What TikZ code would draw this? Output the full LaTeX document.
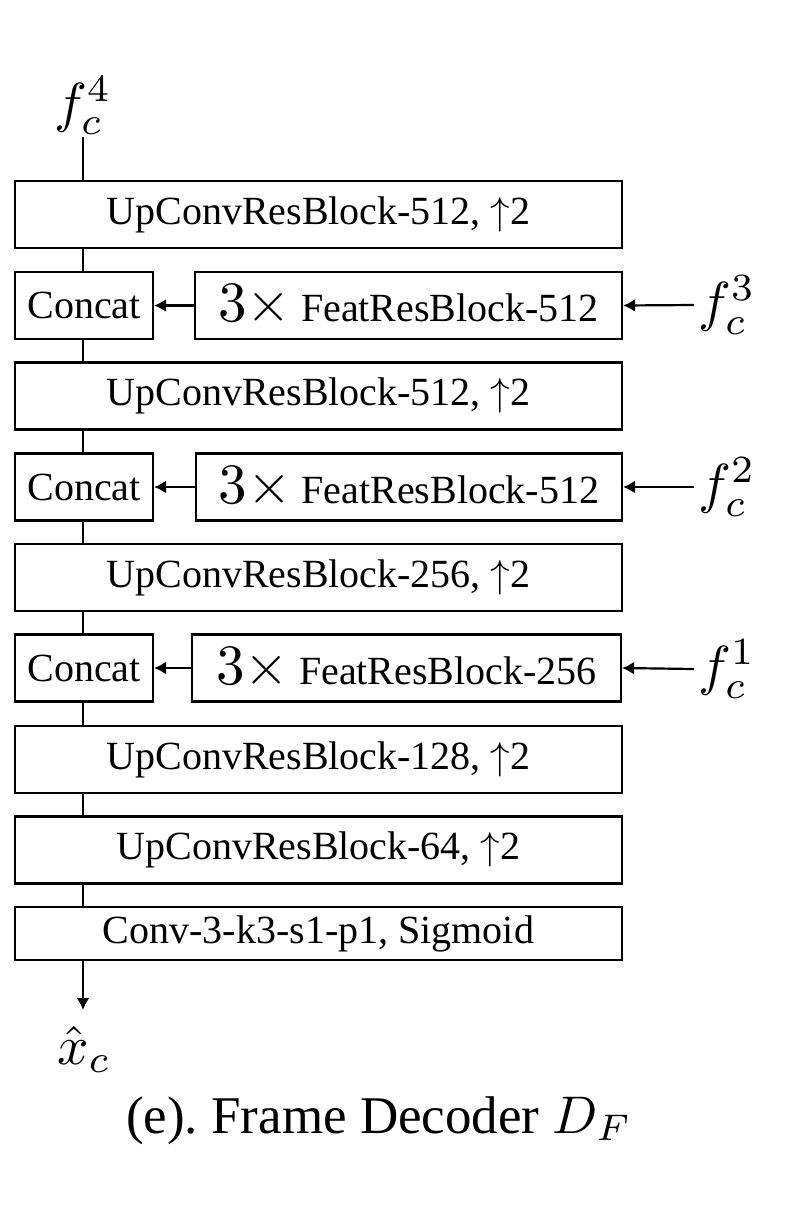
\documentclass[tikz,border=0pt]{standalone}
\usepackage[no-math]{fontspec}
\setmainfont{Liberation Serif}
\usetikzlibrary{arrows.meta}
\newcommand{\mth}[2]{\scalebox{#1}{\fontsize{10}{12}\selectfont$#2$}}
\begin{document}
\begin{tikzpicture}[x=1pt,y=-1pt,
  blk/.style={draw,line width=2.2pt,rectangle,inner sep=0pt,
    minimum width=607pt,minimum height=67pt,font=\fontsize{40}{48}\selectfont},
  catbox/.style={blk,minimum width=138pt},
  featbox/.style={blk,minimum width=427pt},
  lbl/.style={inner sep=0pt},
  conn/.style={line width=2.2pt},
  arr/.style={conn,-{Latex[length=12pt,width=13pt]}}
]
\useasboundingbox (0,0) rectangle (800,1211);
\newcommand{\tx}{\mth{5.7}{3\times}}
\newcommand{\upa}{\mth{3.9}{\uparrow}}
% main column
\node[blk] (up1) at (318.5,214.5) {UpConvResBlock-512, \upa2};
\node[catbox] (cat1) at (84,305.5) {Concat};
\node[featbox] (feat1) at (408.5,305.5) {\tx\ FeatResBlock-512};
\node[blk] (up2) at (318.5,396) {UpConvResBlock-512, \upa2};
\node[catbox] (cat2) at (84,487) {Concat};
\node[featbox,minimum width=426pt] (feat2) at (409,487) {\tx\ FeatResBlock-512};
\node[blk] (up3) at (318.5,577.5) {UpConvResBlock-256, \upa2};
\node[catbox] (cat3) at (84,668) {Concat};
\node[featbox,minimum width=429pt] (feat3) at (406.5,668) {\tx\ FeatResBlock-256};
\node[blk] (up4) at (318.5,759.5) {UpConvResBlock-128, \upa2};
\node[blk] (up5) at (318.5,850) {UpConvResBlock-64, \upa2};
\node[blk,minimum height=53pt] (conv) at (318.5,933.5) {Conv-3-k3-s1-p1, Sigmoid};
% labels
\node[lbl,anchor=south] (f4) at (83,135) {\mth{5.5}{f_c^4}};
\node[lbl,anchor=west] (f3) at (698,305) {\mth{5.5}{f_c^3}};
\node[lbl,anchor=west] (f2) at (698,487) {\mth{5.5}{f_c^2}};
\node[lbl,anchor=west] (f1) at (698,669) {\mth{5.5}{f_c^1}};
\node[lbl,anchor=north] (xc) at (84,1026) {\mth{5.5}{\hat{x}_c}};
\coordinate (out) at (83,1010);
\node[anchor=base,inner sep=0pt,font=\fontsize{53}{60}\selectfont] (cap) at (379,1133) {(e).\ Frame Decoder \mth{5.3}{D_F}};
% vertical connectors
\draw[conn] (f4.south) ++(0,2) -- (f4 |- up1.north);
\draw[conn] (f4 |- up1.south) -- (f4 |- cat1.north);
\draw[conn] (f4 |- cat1.south) -- (f4 |- up2.north);
\draw[conn] (f4 |- up2.south) -- (f4 |- cat2.north);
\draw[conn] (f4 |- cat2.south) -- (f4 |- up3.north);
\draw[conn] (f4 |- up3.south) -- (f4 |- cat3.north);
\draw[conn] (f4 |- cat3.south) -- (f4 |- up4.north);
\draw[conn] (f4 |- up4.south) -- (f4 |- up5.north);
\draw[conn] (f4 |- up5.south) -- (f4 |- conv.north);
\draw[arr] (f4 |- conv.south) -- (out);
% horizontal arrows
\draw[arr] (feat1.west) -- (cat1.east);
\draw[arr] (feat2.west) -- (cat2.east);
\draw[arr] (feat3.west) -- (cat3.east);
\draw[arr] ([xshift=-4pt]f3.west) -- (feat1.east);
\draw[arr] ([xshift=-4pt]f2.west) -- (feat2.east);
\draw[arr] ([xshift=-4pt]f1.west) -- (feat3.east);
\end{tikzpicture}
\end{document}
